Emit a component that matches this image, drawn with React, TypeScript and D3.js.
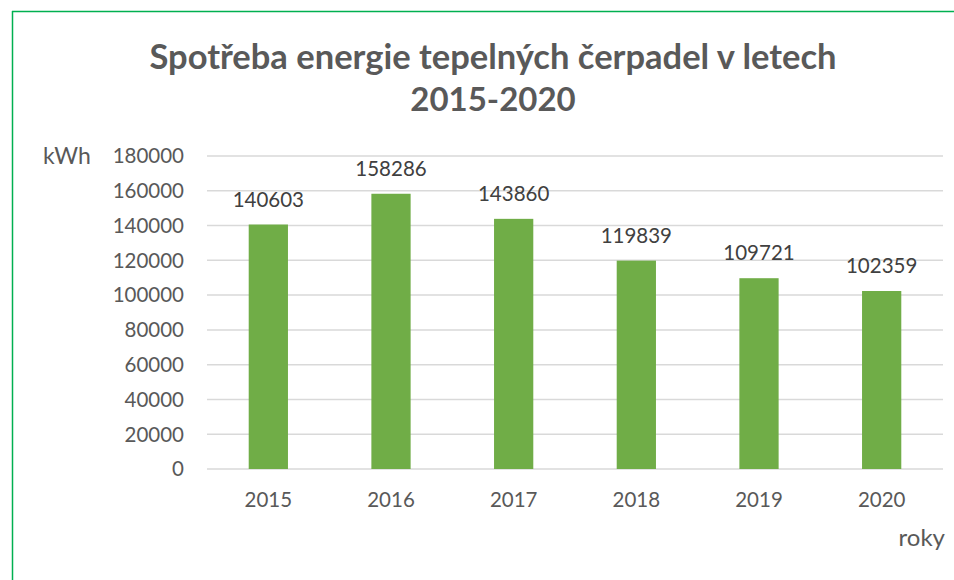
import React from "react";
import * as d3 from "d3";

const categories = ["2015", "2016", "2017", "2018", "2019", "2020"];
const values = [140603, 158286, 143860, 119839, 109721, 102359];
const yTicks = [0, 20000, 40000, 60000, 80000, 100000, 120000, 140000, 160000, 180000];
const titleLines = ["Spotřeba energie tepelných čerpadel v letech", "2015-2020"];
const yAxisLabel = "kWh";
const xAxisLabel = "roky";

const W = 954;
const H = 580;
const FONT = "Lato, 'Open Sans', sans-serif";
const TEXT = "#595959";

export default function App() {
  const x = d3.scaleBand<string>().domain(categories).range([207, 943]).paddingInner(0.68).paddingOuter(0.34);
  const y = d3.scaleLinear().domain([0, 180000]).range([469, 156]);
  return (
    <svg width={W} height={H} style={{ position: "absolute", left: 0, top: 0 }}>
      <rect x={0} y={0} width={W} height={H} fill="#fff" />
      <line x1={12.5} y1={11} x2={12.5} y2={H} stroke="#00b050" strokeWidth={1.5} />
      <line x1={12} y1={11.5} x2={W} y2={11.5} stroke="#00b050" strokeWidth={1.5} />
      {titleLines.map((t, i) => (
        <text key={i} x={493} y={69 + i * 42} textAnchor="middle" fontFamily={FONT} fontWeight="bold" fontSize={i === 0 ? 34.5 : 33} fill={TEXT}>
          {t}
        </text>
      ))}
      {yTicks.map((t) => (
        <g key={t}>
          <line x1={207} x2={943} y1={y(t)} y2={y(t)} stroke="#d9d9d9" strokeWidth={1.5} />
          <text x={184} y={y(t)} dy="0.36em" textAnchor="end" fontFamily={FONT} fontSize={20.5} fill={TEXT}>
            {t}
          </text>
        </g>
      ))}
      <text x={43} y={164} fontFamily={FONT} fontSize={23} fill={TEXT}>{yAxisLabel}</text>
      {categories.map((c, i) => (
        <g key={c}>
          <rect x={x(c)!} y={y(values[i])} width={x.bandwidth()} height={y(0) - y(values[i])} fill="#70ad47" />
          <text x={x(c)! + x.bandwidth() / 2} y={y(values[i]) - 18} textAnchor="middle" fontFamily={FONT} fontSize={20.5} fill="#404040">
            {values[i]}
          </text>
          <text x={x(c)! + x.bandwidth() / 2} y={507} textAnchor="middle" fontFamily={FONT} fontSize={20.5} fill={TEXT}>
            {c}
          </text>
        </g>
      ))}
      <text x={945} y={546} textAnchor="end" fontFamily={FONT} fontSize={24} fill={TEXT}>{xAxisLabel}</text>
    </svg>
  );
}
